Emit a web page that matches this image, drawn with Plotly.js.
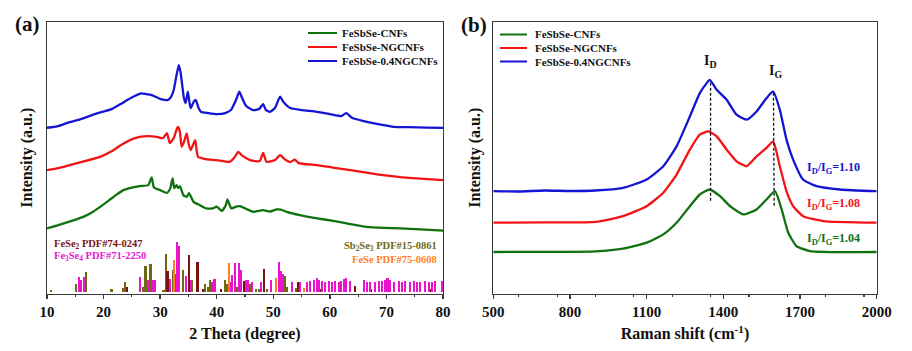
<!DOCTYPE html>
<html>
<head>
<meta charset="utf-8">
<script src="https://cdn.plot.ly/plotly-3.0.1.min.js"></script>
<style>html,body{margin:0;padding:0;background:#fff}#chart{width:912px;height:351px}</style>
</head>
<body>
<div id="chart"></div>
<script>
// ---------- (a) XRD curves (2θ in degree, intensity a.u.) ----------
const xrdBlueX = [10,12,14,15.4,17,19,21.3,23,24.2,25.5,26.6,27.5,28.5,30.1,31.3,31.9,32.4,32.9,33.3,33.6,33.9,34.2,34.5,34.9,35.2,35.4,36.0,36.3,36.8,37.2,38.5,40.1,41.5,42.5,43.4,44.0,44.5,45.2,46.4,47.5,48.2,48.7,49.4,50.3,51.2,51.8,53,55,57.7,60,62,62.9,64,66,67.6,69.5,71.2,74,77,80];
const xrdBlueY = [165.6,167.3,171.3,173.3,176.3,180.3,184,189.3,193.3,197.3,200,199.3,198.3,194.3,193.3,196.3,203.3,218.3,228.3,221.3,208.3,195.3,190.3,201.6,190.3,185.3,192.3,193.3,185.3,181.6,180.3,179.3,180.3,183.3,193.3,201.6,195.3,187.3,183.3,184.3,189.3,183.3,181.6,185.3,196.6,191.3,185.3,183.3,181.6,179.3,177.3,180.3,175.3,172.3,170.3,168.3,166.6,166.3,165.8,165.6];

const xrdRedX = [10,12,14,16,19.4,21.5,22.8,24.1,25.3,26.4,28,29.4,30.5,31.2,31.7,32.4,33.0,33.2,33.5,33.8,34.2,34.7,35.0,35.4,35.8,36.2,36.7,38.0,40,42.3,43.2,43.8,44.4,45.9,47.6,48.2,48.8,50.3,51.2,52,53.0,53.8,54.5,57.7,60.5,63.6,66.5,69.4,72.5,75.4,78,80];
const xrdRedY = [123.3,125.3,128.3,131.3,136.6,142.3,147.3,151.6,154.8,156.6,157.3,156.6,155.3,160.3,150.3,155.3,165.3,166.6,161.3,146.6,151.3,160,150.3,143.3,148.3,153.3,136.6,134.3,133.3,131.6,136.3,141.6,138.3,133.3,132.3,140.6,131.6,133.3,138.3,134.3,131.3,133.8,130.3,128.3,125.8,123.3,120.8,118.3,116.3,115,114,113.3];

const xrdGreenX = [10,12,14.5,16.4,18,19.4,21,22.3,23.5,25,26.4,27.9,28.5,28.9,30,31.2,31.8,32.2,32.5,32.9,33.2,33.5,34.1,34.7,35.1,35.9,37,38.2,39.4,40,40.9,41.6,41.9,42.3,42.6,43.4,44.1,45.3,46.5,48.2,49.4,50.6,51.3,52.5,54.7,57.5,60.6,63,66.5,69.5,72.4,76,80];
const xrdGreenY = [65,68.3,72.8,76.6,81.3,86.6,93.3,98.8,103.3,105.8,107.3,108.3,116,106,103.3,100.6,105.3,115,105.3,108.3,105.3,107.3,98.3,96.6,100.3,91.6,88.3,85,85.3,86.8,82.6,88.3,94,88.3,85,86.8,87.3,84.3,81.6,83.3,81.8,84,83.8,81.3,78.3,75.3,72.6,70,66.6,65.5,65,64,62.8];

// ---------- (a) reference patterns (stick positions, relative heights) ----------
const feSe2X = [24.2,31.3,35.1,36.6,37.5,40.8,44.9,48.4,54.4,58.2,64.5,66.6,67.2,71.3,77.6];
const feSe2Y = [5,21,37,30,3,3,11,23,10,3,6,3,3,3,3];

const fe3Se4X = [15.65,16.0,16.5,26.4,27.8,28.6,29.0,31.8,33.0,33.4,34.6,35.5,39.2,39.6,42.45,42.7,43.2,44.0,44.35,45.2,45.5,46.3,47.8,49.65,51.0,51.35,51.7,53.3,54.65,55.96,56.55,57.13,57.73,58.14,58.61,59.2,59.78,60.38,60.96,61.55,61.97,62.43,62.91,63.6,65.96,66.57,67.15,68.03,68.62,69.22,69.8,70.2,70.7,71.27,72.15,72.75,73.33,74.2,74.8,75.4,75.98,76.86,77.45,78.06,78.64,79.82];
const fe3Se4Y = [15,12,15,15,12,12,12,13,50,46,16,12,10,13,10,17,29,29,22,12,12,10,10,12,30,21,18,10,10,10,11,12,14,12,11,10,11,10,11,10,11,13,14,11,12,10,10,10,11,11,12,14,12,10,11,10,11,10,11,10,10,11,10,10,11,11];

const sb2Se3X = [10.7,15.06,16.9,21.4,23.5,23.8,27.0,27.4,28.3,30.6,31.1,32.2,32.7,34.0,35.7,38.0,38.4,38.8,41.4,41.8,43.6,45.8,47.0,47.4,48.9,52.1,52.4,54.1];
const sb2Se3Y = [2,8,20,3,4,10,5,26,28,2,38,22,18,22,12,8,5,12,12,8,5,8,3,3,3,16,5,4];

const feSeX = [32.45,42.2,50.5,55.4];
const feSeY = [32,29,14,4];

// ---------- (b) Raman curves (Raman shift cm-1, intensity a.u.) ----------
const ramBlueX = [500,600,700,800,900,1008,1050,1100,1165,1217,1269,1308,1335,1347,1374,1413,1452,1491,1530,1569,1595,1621,1647,1673,1712,1765,1856,2000];
const ramBlueY = [102.6,102.3,103.3,102.8,103.3,106,109.3,114.3,127.6,147.6,177.6,201,211,214.3,204.3,194.3,179.3,174.3,182.6,196,202.6,184.3,154.3,134.3,114.3,107.6,104.3,102.6];

const ramRedX = [500,700,900,1008,1100,1165,1217,1269,1308,1341,1374,1413,1452,1491,1530,1569,1595,1621,1647,1673,1712,1791,2000];
const ramRedY = [71,71.3,71.8,77.6,87.6,101,119.3,144.3,159.3,162.6,157.6,144.3,132.6,127.6,137.6,146,152.6,127.6,102.6,87.6,77.6,72.6,71];

const ramGreenX = [500,700,900,1008,1100,1165,1217,1269,1308,1347,1387,1426,1478,1530,1569,1602,1628,1654,1686,1739,2000];
const ramGreenY = [41.6,41.8,42.3,45,51,59.3,71,87.6,99.3,104.3,97.6,87.6,79.3,84.3,94.3,102.6,84.3,61,47.6,42.6,41.6];

const seriesNames = ["FeSbSe-CNFs","FeSbSe-NGCNFs","FeSbSe-0.4NGCNFs"];
const ratioLabels = ["1.04","1.08","1.10"];
const xTicksB = [500,800,1100,1400,1700,2000];

// ---------- styling ----------
const SERIF = "Times New Roman, Liberation Serif, serif";
const cGreen = "#0f720f", cRed = "#f21414", cBlue = "#1414d2";
const cMaroon = "#7a1414", cMag = "#ea14cf", cOlive = "#6f6a12", cOrange = "#ff7f1e";
const seriesColors = [cGreen, cRed, cBlue];
const BASE = 1.6;

function line(x, y, color, name, xa, ya) {
  return {type:"scatter", mode:"lines", x:x, y:y, name:name, xaxis:xa, yaxis:ya, showlegend:false,
          line:{color:color, width:2.3, shape:"spline", smoothing:0.5}};
}
function sticks(x, y, color) {
  return {type:"bar", x:x, y:y, base:BASE, width:0.38, xaxis:"x", yaxis:"y",
          marker:{color:color, line:{width:0}}, showlegend:false, hoverinfo:"x"};
}

const traces = [
  sticks(sb2Se3X, sb2Se3Y, cOlive),
  sticks(feSe2X, feSe2Y, cMaroon),
  sticks(fe3Se4X, fe3Se4Y, cMag),
  sticks(feSeX, feSeY, cOrange),
  line(xrdGreenX, xrdGreenY, cGreen, seriesNames[0], "x", "y"),
  line(xrdRedX, xrdRedY, cRed, seriesNames[1], "x", "y"),
  line(xrdBlueX, xrdBlueY, cBlue, seriesNames[2], "x", "y"),
  line(ramGreenX, ramGreenY, cGreen, seriesNames[0], "x2", "y2"),
  line(ramRedX, ramRedY, cRed, seriesNames[1], "x2", "y2"),
  line(ramBlueX, ramBlueY, cBlue, seriesNames[2], "x2", "y2")
];

const axFont = {family:SERIF, size:15, color:"#111", weight:"bold"};
const titleFont = {family:SERIF, size:16, color:"#111", weight:"bold"};
const frame = {showline:true, linecolor:"#3a3a3a", linewidth:1.4, mirror:true, showgrid:false, zeroline:false};

const W = 912, H = 351;
const yTop = (H-22)/H, yBot = (H-293.5)/H;

const shapes = [
  {type:"line", xref:"x2", yref:"y2", x0:1350, x1:1350, y0:211.3, y1:91, line:{color:"#111", width:1.3, dash:"3px,2px"}},
  {type:"line", xref:"x2", yref:"y2", x0:1596, x1:1599, y0:201.3, y1:86, line:{color:"#111", width:1.3, dash:"3px,2px"}}
];
const annotations = [
  {text:"(a)", xref:"paper", yref:"paper", x:27/W, y:(H-24)/H, showarrow:false, xanchor:"center", yanchor:"middle",
   font:{family:SERIF, size:21, color:"#111", weight:"bold"}},
  {text:"(b)", xref:"paper", yref:"paper", x:474/W, y:(H-25)/H, showarrow:false, xanchor:"center", yanchor:"middle",
   font:{family:SERIF, size:21, color:"#111", weight:"bold"}},
  {text:"FeSe<sub>2</sub> PDF#74-0247", xref:"x", yref:"y", x:10.8, y:49, showarrow:false, xanchor:"left", yanchor:"middle",
   font:{family:SERIF, size:10.5, color:cMaroon, weight:"bold"}},
  {text:"Fe<sub>3</sub>Se<sub>4</sub> PDF#71-2250", xref:"x", yref:"y", x:10.8, y:37.3, showarrow:false, xanchor:"left", yanchor:"middle",
   font:{family:SERIF, size:10.5, color:cMag, weight:"bold"}},
  {text:"Sb<sub>2</sub>Se<sub>3</sub> PDF#15-0861", xref:"x", yref:"y", x:79.3, y:47.3, showarrow:false, xanchor:"right", yanchor:"middle",
   font:{family:SERIF, size:10.5, color:cOlive, weight:"bold"}},
  {text:"FeSe PDF#75-0608", xref:"x", yref:"y", x:79.3, y:34, showarrow:false, xanchor:"right", yanchor:"middle",
   font:{family:SERIF, size:10.5, color:cOrange, weight:"bold"}},
  {text:"I<sub>D</sub>", xref:"x2", yref:"y2", x:1350, y:232.6, showarrow:false, xanchor:"center", yanchor:"middle",
   font:{family:SERIF, size:14, color:"#111", weight:"bold"}},
  {text:"I<sub>G</sub>", xref:"x2", yref:"y2", x:1606, y:222.6, showarrow:false, xanchor:"center", yanchor:"middle",
   font:{family:SERIF, size:14, color:"#111", weight:"bold"}}
];
const ratioY = [55, 89.3, 126];
ratioLabels.forEach((r, i) => annotations.push({
  text:"I<sub>D</sub>/I<sub>G</sub>=" + r, xref:"x2", yref:"y2", x:1942, y:ratioY[i], showarrow:false,
  xanchor:"right", yanchor:"middle", font:{family:SERIF, size:12, color:seriesColors[i], weight:"bold"}}));

// custom legends (compact rows, as in the original figure)
const legendDefs = [
  {x0:308, x1:337, tx:340, rows:[33, 47, 61]},
  {x0:500, x1:527, tx:533, rows:[34.5, 48, 61.5]}
];
legendDefs.forEach(L => {
  seriesNames.forEach((nm, i) => {
    const yp = (H - L.rows[i]) / H;
    shapes.push({type:"line", xref:"paper", yref:"paper", x0:L.x0/W, x1:L.x1/W, y0:yp, y1:yp,
                 line:{color:seriesColors[i], width:2}});
    annotations.push({text:nm, xref:"paper", yref:"paper", x:L.tx/W, y:yp, showarrow:false,
                      xanchor:"left", yanchor:"middle",
                      font:{family:SERIF, size:11, color:"#111", weight:"bold"}});
  });
});

const layout = {
  width:W, height:H, margin:{l:0,r:0,t:0,b:0},
  paper_bgcolor:"#fff", plot_bgcolor:"#fff", barmode:"overlay", bargap:0,
  showlegend:false,
  xaxis:Object.assign({domain:[47/W, 443/W], anchor:"y", range:[10,80], dtick:10, tick0:10,
    ticks:"outside", ticklen:4, tickwidth:1.3, tickcolor:"#3a3a3a", tickfont:axFont,
    minor:{dtick:5, ticks:"outside", ticklen:2.5, tickwidth:1.2, tickcolor:"#3a3a3a"},
    title:{text:"2 Theta (degree)", font:titleFont, standoff:9}}, frame),
  yaxis:Object.assign({domain:[yBot, yTop], anchor:"x", range:[0,271.3], showticklabels:false, ticks:"",
    title:{text:"Intensity (a.u.)", font:titleFont, standoff:9}}, frame),
  xaxis2:Object.assign({domain:[493.3/W, 876.7/W], anchor:"y2", range:[500,2000], tickvals:xTicksB,
    ticks:"outside", ticklen:4, tickwidth:1.3, tickcolor:"#3a3a3a", tickfont:axFont,
    minor:{dtick:150, ticks:"outside", ticklen:2.5, tickwidth:1.2, tickcolor:"#3a3a3a"},
    title:{text:"Raman shift (cm<sup>-1</sup>)", font:titleFont, standoff:9}}, frame),
  yaxis2:Object.assign({domain:[yBot, yTop], anchor:"x2", range:[0,272.3], showticklabels:false, ticks:"",
    title:{text:"Intensity (a.u.)", font:titleFont, standoff:7}}, frame),
  shapes:shapes,
  annotations:annotations
};

Plotly.newPlot("chart", traces, layout, {staticPlot:true, displayModeBar:false});
</script>
</body>
</html>
